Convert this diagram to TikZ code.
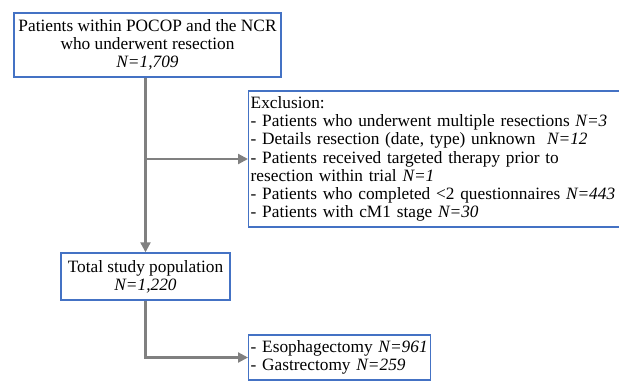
\documentclass[tikz,border=0pt]{standalone}
\usepackage{fontspec}
\setmainfont{Liberation Serif}
\usepackage{xcolor}
\usetikzlibrary{arrows.meta}
\usetikzlibrary{calc}
\usetikzlibrary{positioning}
\definecolor{boxblue}{HTML}{4472C4}
\definecolor{linegray}{HTML}{808080}
\newcommand{\flowfont}{\fontsize{17.3}{18.2}\selectfont}
\begin{document}
\begin{tikzpicture}[x=1pt,y=-1pt,>={Triangle[length=10pt,width=10pt]},semithick]
  \tikzstyle{box}=[draw=boxblue, line width=1.4pt, fill=white, text=black, inner xsep=2pt, inner ysep=0pt, font=\flowfont]
  \tikzstyle{flow}=[draw=linegray, line width=2.2pt]
  \useasboundingbox (0,0) rectangle (619,381);
  \node[box, align=center, minimum width=267pt, minimum height=64pt] (start) at (147.5,45)
    {Patients within POCOP and the NCR\\ who underwent resection\\ \textit{N=1,709}};
  \node[box, align=left, text width=370pt, minimum height=136pt, anchor=west] (excl) at (248,159)
    {Exclusion:\\
     - Patients who underwent multiple resections \textit{N=3}\\
     - Details resection (date, type) unknown ~\textit{N=12}\\
     - Patients received targeted therapy prior to\\
     resection within trial \textit{N=1}\\
     - Patients who completed <2 questionnaires \textit{N=443}\\
     - Patients with cM1 stage \textit{N=30}};
  \node[box, align=center, minimum width=169pt, minimum height=47pt] (total) at (145.5,276.5)
    {Total study population\\ \textit{N=1,220}};
  \node[box, align=left, text width=178pt, minimum height=45pt, anchor=west] (split) at (248,357.5)
    {- Esophagectomy \textit{N=961}\\ - Gastrectomy \textit{N=259}};
  \draw[flow,->] (total.north |- start.south) -- (total.north);
  \draw[flow,->] (total.north |- excl.west) -- (excl.west);
  \draw[flow,->] (total.south) |- (split.west);
\end{tikzpicture}
\end{document}
